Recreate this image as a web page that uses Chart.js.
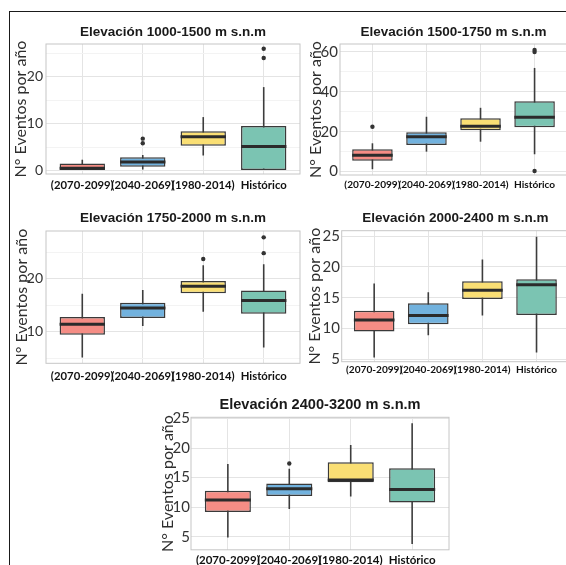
<!DOCTYPE html>
<html lang="es">
<head>
<meta charset="UTF-8" />
<title>N° Eventos por año según elevación</title>
<script src="https://cdn.jsdelivr.net/npm/chart.js"></script>
<style>
  html, body { margin: 0; padding: 0; background: #fff; }
  body { width: 566px; height: 565px; overflow: hidden; position: relative; }
  .marco {
    position: absolute; left: 9px; top: 11px; width: 600px; height: 600px;
    border-left: 1px solid #1a1a1a; border-top: 1px solid #1a1a1a;
  }
  canvas { position: absolute; }
</style>
</head>
<body>
<div class="marco"></div>
<canvas id="e1"></canvas>
<canvas id="e2"></canvas>
<canvas id="e3"></canvas>
<canvas id="e4"></canvas>
<canvas id="e5"></canvas>

<script>
const categorias = ['(2070-2099)', '(2040-2069)', '(1980-2014)', 'Histórico'];
const rellenos = ['#F58D85', '#72B2DE', '#FADF74', '#7BC4B2'];

// Elevación 1000-1500
const e1Min = [0, 0.2, 3.2, 0];
const e1Q1  = [0, 0.8, 5.3, 0];
const e1Med = [0.5, 1.8, 7.2, 5.1];
const e1Q3  = [1.5, 2.8, 8.4, 9.5];
const e1Max = [2.3, 3.3, 11.4, 17.8];
const e1Atipicos = [[], [5.8, 6.8], [], [24, 26]];

// Elevación 1500-1750
const e2Min = [1.2, 10, 15, 8.7];
const e2Q1  = [5.5, 13.3, 20.8, 22.3];
const e2Med = [8.2, 17.5, 22.7, 27.3];
const e2Q3  = [11.2, 19.7, 26.8, 35.3];
const e2Max = [14.2, 27.5, 32, 52];
const e2Atipicos = [[22.5], [], [], [0.3, 60, 61]];

// Elevación 1750-2000
const e3Min = [5.1, 11.1, 13.8, 7];
const e3Q1  = [9.4, 12.6, 17.3, 13.4];
const e3Med = [11.4, 14.5, 18.6, 15.9];
const e3Q3  = [12.8, 15.5, 19.6, 17.8];
const e3Max = [17.2, 17.9, 22.6, 22.8];
const e3Atipicos = [[], [], [23.8], [24.9, 27.9]];

// Elevación 2000-2400
const e4Min = [5.3, 8.9, 12.1, 6.1];
const e4Q1  = [9.5, 10.7, 14.8, 12.2];
const e4Med = [11.4, 12.1, 16.2, 17.1];
const e4Q3  = [12.9, 14.1, 17.7, 18.0];
const e4Max = [17.3, 15.9, 21.2, 24.9];
const e4Atipicos = [[], [], [], []];

// Elevación 2400-3200
const e5Min = [4.9, 9.7, 11.8, 3.8];
const e5Q1  = [9.2, 11.9, 14.2, 10.8];
const e5Med = [11.2, 13.1, 14.6, 13.0];
const e5Q3  = [12.8, 14.0, 17.6, 16.6];
const e5Max = [17.3, 16.5, 20.5, 24.2];
const e5Atipicos = [[], [17.4], [], []];

// borde gris del panel
const bordePanel = {
  id: 'bordePanel',
  afterDraw(chart) {
    const a = chart.chartArea;
    const c = chart.ctx;
    c.save();
    c.strokeStyle = '#C6C6C6';
    c.lineWidth = 1;
    c.strokeRect(a.left, a.top, a.right - a.left, a.bottom - a.top);
    c.restore();
  }
};

function crearPanel(id, titulo, mins, q1, med, q3, maxs, atip, esc, lay) {
  const lienzo = document.getElementById(id);
  lienzo.width = lay.w;
  lienzo.height = lay.h;
  lienzo.style.left = lay.x + 'px';
  lienzo.style.top = lay.y + 'px';

  const anchoY = lay.L - lay.x;
  const altoTitulo = lay.T - lay.y;
  const altoX = lay.y + lay.h - lay.B;
  const padTit = lay.tc - lay.y - lay.ts / 2;

  const bigotes = categorias.map((c, i) => ({ x: i, y: [mins[i], maxs[i]] }));
  const cajas = categorias.map((c, i) => ({ x: i, y: [q1[i], q3[i]] }));
  const medianas = categorias.map((c, i) => ({ x: i, y: med[i] }));
  const puntos = atip.flatMap((arr, i) => arr.map(v => ({ x: i, y: v })));

  const medioCaja = ctx => {
    const s = ctx.chart.scales.x;
    return (s.getPixelForValue(1) - s.getPixelForValue(0)) * 0.375;
  };

  new Chart(lienzo, {
    type: 'bar',
    data: {
      datasets: [
        { type: 'scatter', data: puntos, pointRadius: 2.2, pointBackgroundColor: '#333',
          pointBorderWidth: 0, order: 0 },
        { type: 'scatter', data: medianas, pointStyle: 'line', pointRadius: medioCaja,
          pointBorderColor: '#2b2b2b', pointBorderWidth: 3, order: 1 },
        { type: 'bar', data: cajas, backgroundColor: rellenos, borderColor: '#3a3a3a',
          borderWidth: 1.5, borderSkipped: false, grouped: false,
          categoryPercentage: 1, barPercentage: 0.75, order: 2 },
        { type: 'bar', data: bigotes, backgroundColor: '#3d3d3d', grouped: false,
          maxBarThickness: 1.6, order: 3 }
      ]
    },
    options: {
      responsive: false,
      animation: false,
      events: [],
      layout: { padding: { left: 0, top: 0, bottom: 0, right: lay.x + lay.w - lay.R } },
      plugins: {
        legend: { display: false },
        tooltip: { enabled: false },
        title: {
          display: true,
          text: titulo,
          fullSize: false,
          color: '#1a1a1a',
          font: { family: 'Liberation Sans', weight: 'bold', size: lay.ts, lineHeight: 1 },
          padding: { top: padTit, bottom: altoTitulo - lay.ts - padTit }
        }
      },
      scales: {
        x: {
          type: 'linear',
          min: -0.6,
          max: 3.6,
          offset: false,
          ticks: {
            stepSize: 1,
            includeBounds: false,
            autoSkip: false,
            maxRotation: 0,
            minRotation: 0,
            padding: lay.xPad,
            color: '#111',
            font: { family: 'Lato', weight: 'bold', size: lay.xFont },
            callback: v => categorias[v] ?? ''
          },
          grid: { color: '#E4E4E4', offset: false, drawTicks: false },
          border: { display: false },
          afterFit: s => { s.height = altoX; }
        },
        y: {
          min: esc.min,
          max: esc.max,
          ticks: {
            stepSize: esc.paso,
            includeBounds: false,
            padding: lay.yPad,
            color: '#333',
            font: { family: 'Lato', size: lay.yFont },
            callback: v => (Math.abs(v % esc.mayor) < 1e-9 ? v : '')
          },
          grid: {
            drawTicks: false,
            color: ctx => (Math.abs(ctx.tick.value % esc.mayor) < 1e-9 ? '#E4E4E4' : '#F3F3F3')
          },
          border: { display: false },
          title: {
            display: true,
            text: 'N° Eventos por año',
            color: '#2e2e2e',
            font: { family: 'Lato', size: 16 },
            padding: { top: lay.yt - lay.x - 9.6, bottom: 0 }
          },
          afterFit: s => { s.width = anchoY; }
        }
      }
    },
    plugins: [bordePanel]
  });
}

crearPanel('e1', 'Elevación 1000-1500 m s.n.m', e1Min, e1Q1, e1Med, e1Q3, e1Max, e1Atipicos,
  { min: -0.75, max: 27, paso: 5, mayor: 10 },
  { x: 10, y: 12, w: 294, h: 186, L: 46, T: 44, R: 302, B: 174, tc: 32.5, ts: 13.5, yt: 21, yPad: 3, yFont: 14, xFont: 11.3, xPad: 4.2 });

crearPanel('e2', 'Elevación 1500-1750 m s.n.m', e2Min, e2Q1, e2Med, e2Q3, e2Max, e2Atipicos,
  { min: -1.7, max: 64, paso: 10, mayor: 20 },
  { x: 300, y: 12, w: 271, h: 186, L: 340, T: 44, R: 569, B: 175, tc: 32.5, ts: 13.5, yt: 316, yPad: 2, yFont: 15, xFont: 10.1, xPad: 4 });

crearPanel('e3', 'Elevación 1750-2000 m s.n.m', e3Min, e3Q1, e3Med, e3Q3, e3Max, e3Atipicos,
  { min: 4.0, max: 29.1, paso: 5, mayor: 10 },
  { x: 10, y: 199, w: 294, h: 190, L: 46, T: 231, R: 302, B: 363.3, tc: 218.3, ts: 13.5, yt: 21.5, yPad: 3, yFont: 14, xFont: 11.3, xPad: 6.6 });

crearPanel('e4', 'Elevación 2000-2400 m s.n.m', e4Min, e4Q1, e4Med, e4Q3, e4Max, e4Atipicos,
  { min: 4.6, max: 25.9, paso: 2.5, mayor: 5 },
  { x: 300, y: 199, w: 271, h: 190, L: 341.7, T: 230.7, R: 569, B: 361.7, tc: 218.3, ts: 13.5, yt: 315, yPad: 1.7, yFont: 15, xFont: 10.1, xPad: 2.3 });

crearPanel('e5', 'Elevación 2400-3200 m s.n.m', e5Min, e5Q1, e5Med, e5Q3, e5Max, e5Atipicos,
  { min: 2.8, max: 25.2, paso: 2.5, mayor: 5 },
  { x: 150, y: 387, w: 303, h: 190, L: 191, T: 417.3, R: 451, B: 549.8, tc: 404.5, ts: 14.6, yt: 167.5, yPad: 1, yFont: 15, xFont: 11.5, xPad: 3.4 });
</script>
</body>
</html>
